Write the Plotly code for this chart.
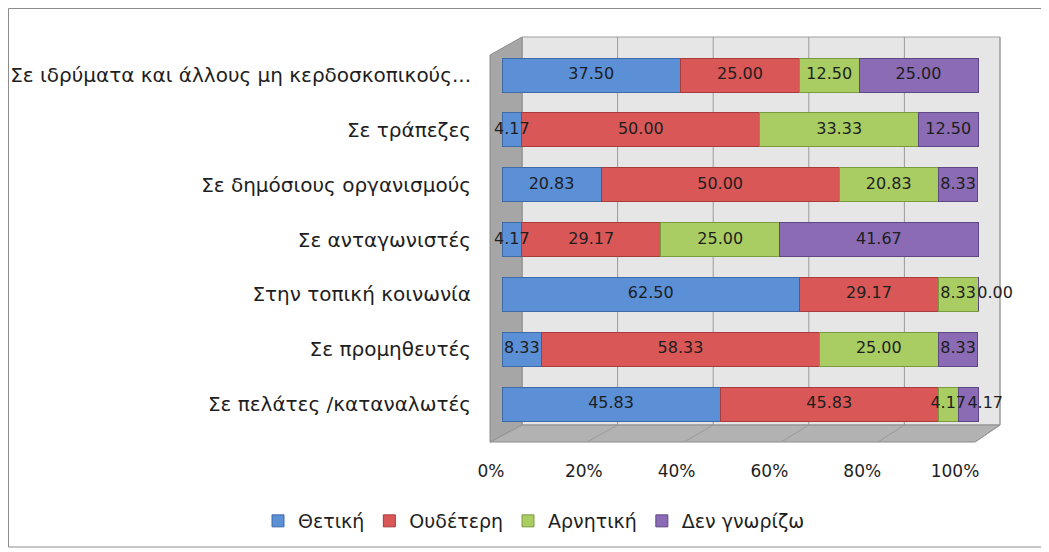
import plotly.graph_objects as go

categories = [
    "Σε ιδρύματα και άλλους μη κερδοσκοπικούς...",
    "Σε τράπεζες",
    "Σε δημόσιους οργανισμούς",
    "Σε ανταγωνιστές",
    "Στην τοπική κοινωνία",
    "Σε προμηθευτές",
    "Σε πελάτες /καταναλωτές",
]
series_names = ["Θετική", "Ουδέτερη", "Αρνητική", "Δεν γνωρίζω"]
thetiki = [37.50, 4.17, 20.83, 4.17, 62.50, 8.33, 45.83]
oudeteri = [25.00, 50.00, 50.00, 29.17, 29.17, 58.33, 45.83]
arnitiki = [12.50, 33.33, 20.83, 25.00, 8.33, 25.00, 4.17]
den_gnorizo = [25.00, 12.50, 8.33, 41.67, 0.00, 8.33, 4.17]
tick_vals = [0, 20, 40, 60, 80, 100]
tick_text = ["0%", "20%", "40%", "60%", "80%", "100%"]

colors = ["#5b8fd6", "#d95757", "#a9cd62", "#8a6bb4"]
edges = ["#3f6aa8", "#a63c3b", "#7a9a3e", "#5f4785"]
FONT = "DejaVu Sans"

OFF = 8  # page body margin
W, H = 1049 - OFF, 552 - OFF
L, R, T, B = 472, 45, 22, 107
pw, ph = W - L - R, H - T - B


def px(x):
    return (x - OFF - L) / pw


def py(y):
    return (H - B - (y - OFF)) / ph


all_series = [thetiki, oudeteri, arnitiki, den_gnorizo]

fig = go.Figure()
for name, vals, c, e in zip(series_names, all_series, colors, edges):
    fig.add_trace(go.Bar(
        y=categories, x=vals, name=name, orientation="h",
        marker=dict(color=c, line=dict(color=e, width=1)),
        width=0.62, hoverinfo="x+name",
    ))

# value labels drawn above all bars
lab_x, lab_y, lab_t = [], [], []
for i, cat in enumerate(categories):
    start = 0.0
    for j, vals in enumerate(all_series):
        v = vals[i]
        shift = 3.6 if (j == len(all_series) - 1 and v < 5) else 0.0
        lab_x.append(start + v / 2 + shift)
        lab_y.append(cat)
        lab_t.append(f"{v:.2f}")
        start += v
fig.add_trace(go.Scatter(x=lab_x, y=lab_y, text=lab_t, mode="text", textposition="middle center",
                         textfont=dict(size=16, family=FONT, color="#1e1e1e"),
                         showlegend=False, hoverinfo="skip", cliponaxis=False))

shapes = []
# outer border
shapes.append(dict(type="rect", xref="paper", yref="paper", x0=px(8.5), x1=px(1044), y0=py(547), y1=py(8.5),
                   line=dict(color="#8c8c8c", width=1), fillcolor="rgba(0,0,0,0)", layer="below"))
# back wall
shapes.append(dict(type="rect", xref="paper", yref="paper", x0=px(522), x1=px(1000), y0=py(425), y1=py(37),
                   line=dict(color="#a0a0a0", width=1), fillcolor="#e6e6e6", layer="below"))
# left wall
shapes.append(dict(type="path", xref="paper", yref="paper",
                   path=f"M {px(490)} {py(55)} L {px(522)} {py(37)} L {px(522)} {py(425)} L {px(490)} {py(442)} Z",
                   line=dict(color="#8c8c8c", width=1), fillcolor="#a6a6a6", layer="below"))
# floor
shapes.append(dict(type="path", xref="paper", yref="paper",
                   path=f"M {px(490)} {py(442)} L {px(522)} {py(425)} L {px(1000)} {py(425)} L {px(975)} {py(442)} Z",
                   line=dict(color="#8c8c8c", width=1), fillcolor="#b2b2b2", layer="below"))
for k in range(6):
    bx = 522 + 95.6 * k
    fx = 490 + 97 * k
    shapes.append(dict(type="line", xref="paper", yref="paper", x0=px(bx), x1=px(bx), y0=py(425), y1=py(37),
                       line=dict(color="#9a9a9a", width=1), layer="below"))
    shapes.append(dict(type="line", xref="paper", yref="paper", x0=px(bx), x1=px(fx), y0=py(425), y1=py(442),
                       line=dict(color="#9a9a9a", width=1), layer="below"))

# axis ranges derived from pixel geometry (reference pixels)
bar_x0, bar_x1 = 502, 978
s = (bar_x1 - bar_x0) / 100
x_range = [-(bar_x0 - OFF - L) / s, 100 + (L + pw - (bar_x1 - OFF)) / s]
tick_x0, tick_x1 = 491, 955
s2 = (tick_x1 - tick_x0) / 100
x2_range = [-(tick_x0 - OFF - L) / s2, (L + pw - (tick_x0 - OFF)) / s2]
c_top, c_bot = 75, 404
sp = (c_bot - c_top) / 6
y_range = [6 + (H - B - (c_bot - OFF)) / sp, -((c_top - OFF) - T) / sp]

fig.add_trace(go.Scatter(x=[0, 100], y=[categories[0], categories[0]], xaxis="x2", mode="markers",
                         marker=dict(opacity=0), showlegend=False, hoverinfo="skip"))

fig.update_layout(
    width=W, height=H,
    margin=dict(l=L, r=R, t=T, b=B, autoexpand=False),
    barmode="stack",
    paper_bgcolor="white", plot_bgcolor="rgba(0,0,0,0)",
    font=dict(family=FONT, color="#1e1e1e"),
    xaxis=dict(range=x_range, showgrid=False, zeroline=False, showticklabels=False, fixedrange=True),
    xaxis2=dict(range=x2_range, overlaying="x", side="bottom", anchor="y", showgrid=False, zeroline=False,
                tickvals=tick_vals, ticktext=tick_text, ticks="", ticklabelstandoff=14,
                tickfont=dict(size=17, family=FONT, color="#1e1e1e")),
    yaxis=dict(range=y_range, type="category", showgrid=False, zeroline=False, ticks="",
               ticklabelstandoff=8, tickfont=dict(size=20, family=FONT, color="#1e1e1e")),
    legend=dict(orientation="h", x=px(258), xanchor="left", y=py(521), yanchor="middle",
                font=dict(size=19, family=FONT, color="#1e1e1e"), traceorder="normal",
                itemwidth=30),
    shapes=shapes,
    showlegend=True,
)
fig.write_html("out.html")
